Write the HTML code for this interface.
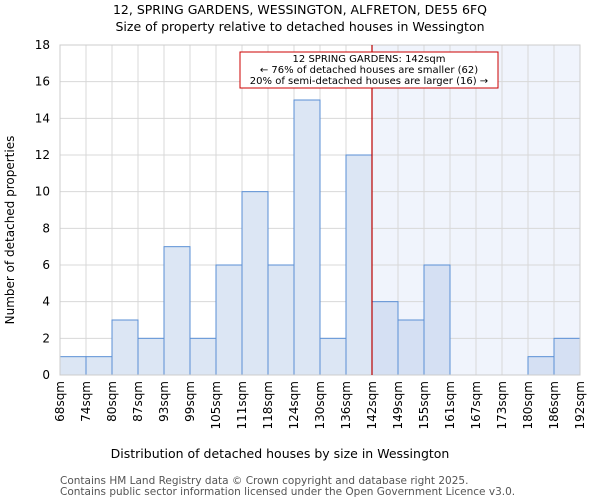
<!DOCTYPE html>
<html><head><meta charset="utf-8"><style>
body{margin:0;background:#fff;}
#wrap{position:relative;width:600px;height:500px;overflow:hidden;}
svg text{font-family:"DejaVu Sans","Liberation Sans",sans-serif;}
.xt{position:absolute;top:381px;width:60px;height:14px;font:12px "DejaVu Sans","Liberation Sans",sans-serif;line-height:14px;text-align:right;white-space:nowrap;transform-origin:100% 0;}
</style></head><body>
<div id="wrap">
<svg id="c" width="600" height="500" xmlns="http://www.w3.org/2000/svg" style="position:absolute;left:0;top:0">
<text x="300" y="14" font-size="12.5" text-anchor="middle">12, SPRING GARDENS, WESSINGTON, ALFRETON, DE55 6FQ</text>
<text x="300" y="31" font-size="12.5" text-anchor="middle">Size of property relative to detached houses in Wessington</text>
<g id="plot"></g>
<text x="14" y="230" font-size="12" text-anchor="middle" transform="rotate(-90 14 230)">Number of detached properties</text>
<text x="280" y="458" font-size="12.5" text-anchor="middle">Distribution of detached houses by size in Wessington</text>
<text x="60" y="484" font-size="10.5" fill="#555">Contains HM Land Registry data © Crown copyright and database right 2025.</text>
<text x="60" y="495" font-size="10.5" fill="#555">Contains public sector information licensed under the Open Government Licence v3.0.</text>
</svg>
</div>
<script>
const categories=["68sqm","74sqm","80sqm","87sqm","93sqm","99sqm","105sqm","111sqm","118sqm","124sqm","130sqm","136sqm","142sqm","149sqm","155sqm","161sqm","167sqm","173sqm","180sqm","186sqm","192sqm"];
const counts=[1,1,3,2,7,2,6,10,6,15,2,12,4,3,6,0,0,0,1,2];
const yTicks=[0,2,4,6,8,10,12,14,16,18];
const markerIndex=12;
const NS="http://www.w3.org/2000/svg";
const g=document.getElementById('plot');
const wrap=document.getElementById('wrap');
const X0=60,X1=580,Y0=375,Y1=45,YMAX=18;
const bw=(X1-X0)/counts.length;
const xs=i=>X0+i*bw;
const ys=v=>Y0-(v/YMAX)*(Y0-Y1);
function mk(t,a){const e=document.createElementNS(NS,t);for(const k in a)e.setAttribute(k,a[k]);g.appendChild(e);return e;}
let e=mk('rect',{x:xs(markerIndex),y:Y1,width:X1-xs(markerIndex),height:Y0-Y1,fill:'#f0f4fc'});


yTicks.forEach(t=>{
 let l=mk('line',{x1:X0,x2:X1,y1:ys(t),y2:ys(t),stroke:'#d8d8d8','stroke-width':1});
 
 
 let tx=mk('text',{x:X0-10,y:ys(t)+4,'font-size':12,'text-anchor':'end'});tx.textContent=t;
 
 
});
categories.forEach((c,i)=>{
 let l=mk('line',{x1:xs(i),x2:xs(i),y1:Y1,y2:Y0,stroke:'#d8d8d8','stroke-width':1});
 
 
 const d=document.createElement('div');
 d.className='xt';
 d.textContent=c;
 d.style.left=(xs(i)-60-7)+'px';
 d.style.transform='rotate(-90deg)';
 
 
 wrap.appendChild(d);
});
counts.forEach((v,i)=>{
 let r=mk('rect',{x:xs(i),y:ys(v),width:bw,height:Y0-ys(v),fill:i>=markerIndex?'#d5e0f3':'#dce6f4',stroke:'#5a8fd5','stroke-width':1});
 
 
});
let ax=mk('rect',{x:X0,y:Y1,width:X1-X0,height:Y0-Y1,fill:'none',stroke:'#ccc','stroke-width':1});


let m=mk('line',{x1:xs(markerIndex),x2:xs(markerIndex),y1:Y1,y2:Y0,stroke:'#b00','stroke-width':1.2});


let b=mk('rect',{x:240,y:52,width:258,height:36,fill:'#fff',stroke:'#c00','stroke-width':1});


["12 SPRING GARDENS: 142sqm","← 76% of detached houses are smaller (62)","20% of semi-detached houses are larger (16) →"].forEach((s,i)=>{
 let t=mk('text',{x:369,y:62+i*11,'font-size':10,'text-anchor':'middle'});t.textContent=s;
 
 
});
</script>
</body></html>
